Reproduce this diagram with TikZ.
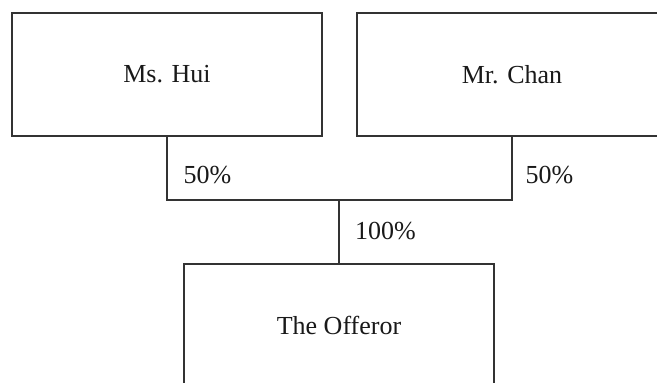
\documentclass[tikz,border=0pt]{standalone}
\usepackage{fontspec}
\setmainfont{Liberation Serif}
\begin{document}
\begin{tikzpicture}[x=1pt,y=-1pt,
  entity/.style={draw=black!80,line width=1.2pt,minimum width=310pt,minimum height=123pt,inner sep=0pt,font=\fontsize{26}{30}\selectfont,text=black!90},
  link/.style={draw=black!80,line width=1.2pt},
  pct/.style={font=\fontsize{26}{30}\selectfont,text=black!90,inner sep=0pt}]
\useasboundingbox (0,0) rectangle (657,383);
\clip (0,0) rectangle (657,383);
\node[entity] (hui) at (167,74.5) {Ms. Hui};
\node[entity] (chan) at (512,74.5) {Mr. Chan};
\node[entity] (off) at (339,325.5) {The Offeror};
\coordinate (j) at (339,200);
\draw[link] (hui.south) |- (j);
\draw[link] (chan.south) |- (j);
\draw[link] (j) -- (off.north);
\node[pct] (p1) at (207.5,175) {50\%};
\node[pct] (p2) at (549.5,175) {50\%};
\node[pct] (p3) at (385.5,231) {100\%};
\end{tikzpicture}
\end{document}
